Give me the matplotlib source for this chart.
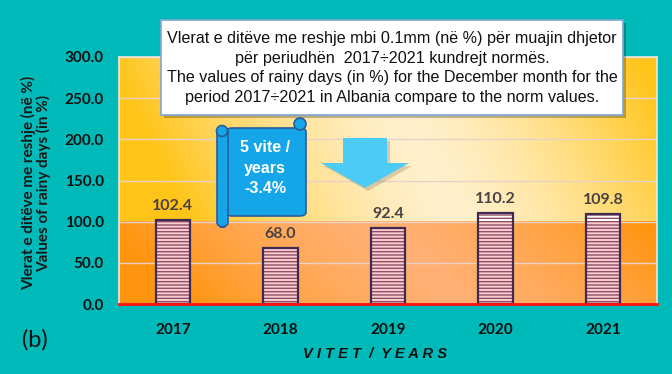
import numpy as np
import matplotlib
matplotlib.use("Agg")
import matplotlib.pyplot as plt
from matplotlib.patches import Polygon, FancyBboxPatch, Rectangle, Ellipse

years = ["2017", "2018", "2019", "2020", "2021"]
values = [102.4, 68.0, 92.4, 110.2, 109.8]
yticks = [0, 50, 100, 150, 200, 250, 300]
norm = 100.0

title_text = ("Vlerat e ditëve me reshje mbi 0.1mm (në %) për muajin dhjetor\n"
              "për periudhën  2017÷2021 kundrejt normës.\n"
              "The values of rainy days (in %) for the December month for the\n"
              "period 2017÷2021 in Albania compare to the norm values.")
scroll_text = "5 vite /\nyears\n-3.4%"
ylabel_text = "Vlerat e ditëve me reshje (në %)\nValues of rainy days (in %)"
xlabel_text = "V I T E T  /  Y E A R S"

W, H = 672, 374
TEAL = "#00B9B9"


def px(x, y):
    # pixel position -> figure fraction
    return x / W, 1 - y / H


plt.rcParams["hatch.linewidth"] = 1.0
fig = plt.figure(figsize=(6.72, 3.74), dpi=100, facecolor=TEAL)
ax = fig.add_axes([119 / W, 70 / H, 538 / W, 247 / H])
ax.set_facecolor("none")

# gradient background, upper (yellow) and lower (orange) bands
nx, ny = 200, 60
gx = np.linspace(-1, 1, nx)
gy = np.linspace(0, 1, ny)
GX, GY = np.meshgrid(gx, gy)
t = np.clip(np.abs(GX - 0.1 + 0.3 * (GY - 0.5)) ** 1.5, 0, 1)

def band(c_mid, c_edge):
    c_mid = np.array(matplotlib.colors.to_rgb(c_mid))
    c_edge = np.array(matplotlib.colors.to_rgb(c_edge))
    return c_mid[None, None, :] * (1 - t[..., None]) + c_edge[None, None, :] * t[..., None]

ax.imshow(band("#FFF0CC", "#FFC417"), extent=(-0.5, 4.5, norm, 300),
          aspect="auto", origin="lower", zorder=0)
ax.imshow(band("#FFB074", "#FF950F"), extent=(-0.5, 4.5, 0, norm),
          aspect="auto", origin="lower", zorder=0)

ax.set_xlim(-0.5, 4.5)
ax.set_ylim(0, 300)
ax.set_yticks(yticks)
ax.set_yticklabels([f"{v:.1f}" for v in yticks])
ax.yaxis.grid(True, color="#E8D2C8", linewidth=1.0, zorder=1)
ax.set_axisbelow(True)

x = np.arange(len(years))
edge = "#3E2A52"
stripe = "#8E4E66"
low = [min(v, norm) for v in values]
high = [max(v - norm, 0) for v in values]
ax.bar(x, low, width=0.32, color="#FCCDD0", edgecolor=stripe, hatch="-----",
       linewidth=0, zorder=3)
ax.bar(x, high, bottom=low, width=0.32, color="#FFFFFF", edgecolor=stripe,
       hatch="-----", linewidth=0, zorder=3)
ax.bar(x, values, width=0.32, color="none", edgecolor=edge, linewidth=1.6, zorder=4)

for xi, v in zip(x, values):
    ax.annotate(f"{v:.1f}", (xi, v), xytext=(0, 5), textcoords="offset points",
                ha="center", va="bottom", fontsize=11.5, fontweight="bold",
                family="Lato", color="#4A4244", zorder=5)

ax.set_xticks(x)
ax.set_xticklabels(years)
ax.tick_params(length=0)
ax.tick_params(axis="y", pad=11)
ax.tick_params(axis="x", pad=14)
for lab in ax.get_xticklabels() + ax.get_yticklabels():
    lab.set_fontfamily("Lato")
    lab.set_fontweight("bold")
    lab.set_fontsize(11)
    lab.set_color("#111111")

for s in ["top", "right", "left"]:
    ax.spines[s].set_color("#F4E6DA")
    ax.spines[s].set_linewidth(1.2)
ax.spines["bottom"].set_color("#FF1010")
ax.spines["bottom"].set_linewidth(2)
ax.spines["bottom"].set_zorder(6)

fig.text(*px(36, 183), ylabel_text, rotation=90, ha="center", va="center",
         fontsize=11, fontweight="bold", family="Lato", color="#1A1A1A",
         linespacing=1.0)
fig.text(*px(375, 354), xlabel_text, ha="center", va="center", fontsize=10.5,
         fontweight="bold", style="italic", family="Liberation Sans", color="#111111")
fig.text(*px(35, 340), "(b)", ha="center", va="center", fontsize=17,
         family="Lato", color="#111111")

# title box with shadow
bx0, by0, bx1, by1 = 161, 20, 623, 115
fig.patches.append(Rectangle(px(bx0 + 3, by1 + 3), (bx1 - bx0) / W, (by1 - by0) / H,
                             transform=fig.transFigure, facecolor="#000000",
                             alpha=0.25, edgecolor="none", zorder=8))
fig.patches.append(Rectangle(px(bx0, by1), (bx1 - bx0) / W, (by1 - by0) / H,
                             transform=fig.transFigure, facecolor="white",
                             edgecolor="#7FA6D6", linewidth=1.2, zorder=9))
fig.text(*px(392, 68), title_text, ha="center", va="center", fontsize=11.6,
         family="Liberation Sans", color="#111111",
         linespacing=1.37, zorder=10)

# scroll banner
blue = "#14A6E9"
dark = "#2A5C9A"
fig.patches.append(FancyBboxPatch(px(226, 216), 80 / W, 88 / H,
                                  boxstyle="round,pad=0,rounding_size=0.01",
                                  transform=fig.transFigure, facecolor=blue,
                                  edgecolor=dark, linewidth=1.2, zorder=8))
fig.patches.append(FancyBboxPatch(px(217, 227), 11 / W, 100 / H,
                                  boxstyle="round,pad=0,rounding_size=0.012",
                                  transform=fig.transFigure, facecolor=blue,
                                  edgecolor=dark, linewidth=1.2, zorder=9))
for cx, cy, r in [(222, 131, 5.5), (300, 124, 6)]:
    fig.patches.append(Ellipse(px(cx, cy), 2 * r / W, 2 * r / H, transform=fig.transFigure,
                               facecolor=blue, edgecolor=dark, linewidth=1.2, zorder=10))
fig.text(*px(265, 168), scroll_text, ha="center", va="center", fontsize=11.5,
         fontweight="bold", family="Liberation Sans", color="white",
         linespacing=1.45, zorder=11)

# down arrow
arrow_px = [(343, 138), (387, 138), (387, 163), (409, 163), (365, 188),
            (321, 163), (343, 163)]
fig.patches.append(Polygon([px(a + 3, b + 3) for a, b in arrow_px], closed=True,
                           transform=fig.transFigure, facecolor="#000000",
                           alpha=0.15, edgecolor="none", zorder=7))
fig.patches.append(Polygon([px(a, b) for a, b in arrow_px], closed=True,
                           transform=fig.transFigure, facecolor="#4CCBF7",
                           edgecolor="none", zorder=8))

fig.savefig("out.png", dpi=100, facecolor=TEAL)
